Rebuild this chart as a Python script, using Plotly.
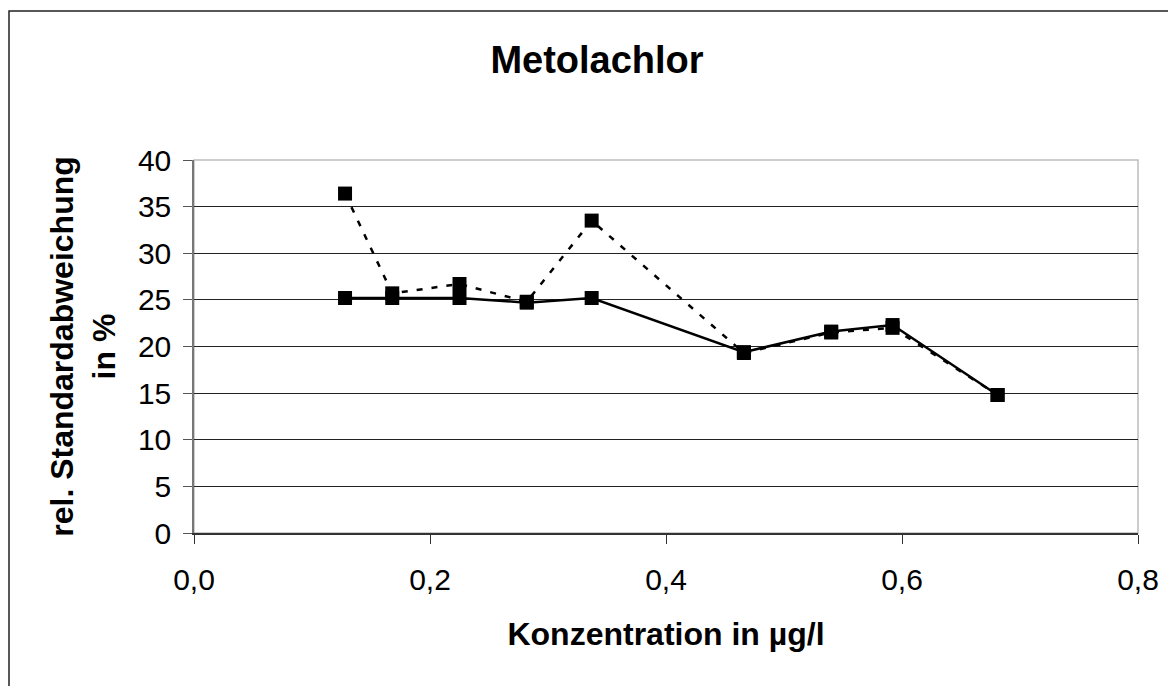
import plotly.graph_objects as go

# Konzentration (µg/l) and relative standard deviation (%)
konz = [0.128, 0.168, 0.225, 0.282, 0.337, 0.466, 0.540, 0.592, 0.681]
rsd_a = [25.2, 25.2, 25.2, 24.7, 25.2, 19.4, 21.6, 22.3, 14.8]
rsd_b = [36.4, 25.7, 26.7, 24.8, 33.5, 19.3, 21.5, 22.0, 14.8]

# page body has an 8px margin, so the figure is a bit smaller than the window
W, H = 1168, 678
L, R, T, B = 186, 38, 152, 153

fig = go.Figure()

# dotted series underneath
fig.add_trace(go.Scatter(
    x=konz, y=rsd_b, mode="lines+markers",
    line=dict(color="black", width=2.5, dash="6px,9px"),
    marker=dict(symbol="square", size=14, color="black"),
))
fig.add_trace(go.Scatter(
    x=konz, y=rsd_a, mode="lines+markers",
    line=dict(color="black", width=2.5),
    marker=dict(symbol="square", size=14, color="black"),
))

pw, ph = W - L - R, H - T - B
# outer chart border
fig.add_shape(type="rect", xref="paper", yref="paper",
              x0=(1 - L) / pw, x1=(1162 - L) / pw,
              y0=-(20) / ph - (B / ph), y1=(ph + T - 3) / ph,
              line=dict(color="#222", width=1.5), layer="below")
# plot area border (top/right, light gray)
fig.add_shape(type="rect", xref="paper", yref="paper", x0=0, x1=1, y0=0, y1=1,
              line=dict(color="#bdbdbd", width=1.5), layer="below")

font = "Liberation Sans, Arial, sans-serif"
fig.update_layout(
    width=W, height=H,
    margin=dict(l=L, r=R, t=T, b=B),
    plot_bgcolor="white", paper_bgcolor="white",
    showlegend=False,
    separators=",.",
    font=dict(family=font, color="black", size=30),
    title=dict(text="<b>Metolachlor</b>", font=dict(size=38, family=font),
               x=589 / W, xanchor="center", xref="container",
               y=1 - 52 / H, yanchor="middle", yref="container"),
    xaxis=dict(
        range=[0, 0.8], dtick=0.2, tickformat=".1f",
        showgrid=False, zeroline=False,
        showline=True, linecolor="#333", linewidth=1.5,
        ticks="outside", ticklen=9, tickcolor="#333",
        ticklabelstandoff=10,
        title=dict(text="<b>Konzentration in µg/l</b>", font=dict(size=32), standoff=28),
    ),
    yaxis=dict(
        range=[0, 40], dtick=5,
        showgrid=True, gridcolor="#222", gridwidth=1, zeroline=False,
        showline=True, linecolor="#777", linewidth=1.5,
        ticks="outside", ticklen=9, tickcolor="#555",
        ticklabelstandoff=6,
        title=dict(text="<b>rel. Standardabweichung<br>in %</b>", font=dict(size=32), standoff=13),
    ),
)

fig.write_html("out.html")
